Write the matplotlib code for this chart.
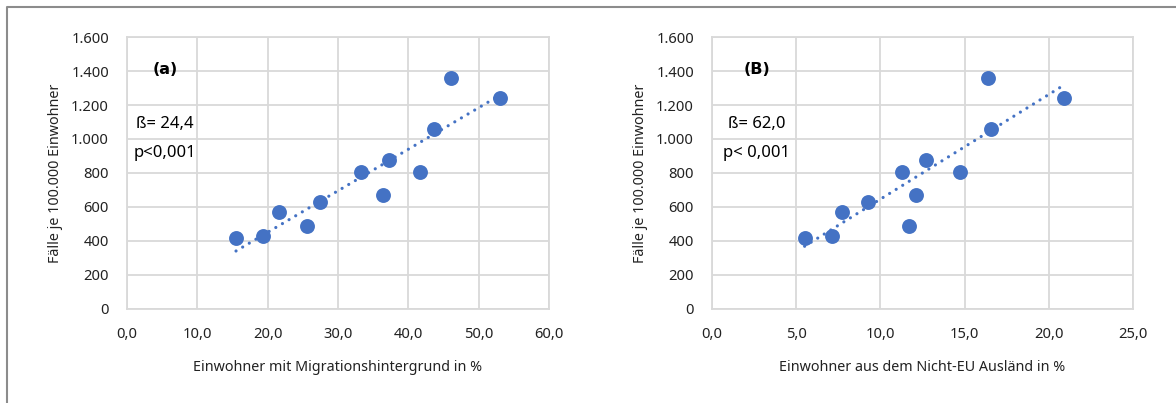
import matplotlib
matplotlib.use("Agg")
import matplotlib.pyplot as plt
from matplotlib.lines import Line2D
import numpy as np

plt.rcParams['font.family'] = ['Noto Sans', 'DejaVu Sans']

# Fälle je 100.000 Einwohner (same districts in both panels)
faelle_a = [415, 425, 570, 488, 629, 803, 667, 877, 805, 1059, 1361, 1242]
migration = [15.5, 19.4, 21.6, 25.6, 27.5, 33.2, 36.4, 37.3, 41.7, 43.7, 46.1, 53.1]

faelle_b = [415, 425, 570, 629, 803, 488, 667, 877, 805, 1361, 1059, 1242]
nicht_eu = [5.5, 7.1, 7.7, 9.25, 11.3, 11.7, 12.1, 12.7, 14.7, 16.4, 16.55, 20.9]

y_ticks = [0, 200, 400, 600, 800, 1000, 1200, 1400, 1600]
y_labels = ['0', '200', '400', '600', '800', '1.000', '1.200', '1.400', '1.600']

blue = '#4472C4'
grid = '#d9d9d9'

fig = plt.figure(figsize=(11.76, 4.03), dpi=100)

# outer frame (left and top edge only)
fig.add_artist(Line2D([7/1176, 7/1176, 1.0], [0.0, 1 - 7/403, 1 - 7/403],
                      transform=fig.transFigure, color='#8c8c8c', lw=1.5))


def panel(ax, x, y, xmax, xstep, xlabel, tag, beta, pval, txt_x):
    ax.set_xlim(0, xmax)
    ax.set_ylim(0, 1600)
    xt = np.arange(0, xmax + 0.01, xstep)
    ax.set_xticks(xt)
    ax.set_xticklabels([('%.1f' % v).replace('.', ',') for v in xt])
    ax.set_yticks(y_ticks)
    ax.set_yticklabels(y_labels)
    ax.grid(True, color=grid, lw=1.3)
    ax.set_axisbelow(True)
    for s in ax.spines.values():
        s.set_color(grid)
        s.set_linewidth(1.3)
    ax.tick_params(length=0, labelsize=10.6, pad=13, colors='#222222')

    # linear trend line
    k, d = np.polyfit(x, y, 1)
    xs = np.array([min(x), max(x)])
    ax.plot(xs, k * xs + d, color=blue, lw=2.3,
            linestyle=(0, (0.01, 2.4)), dash_capstyle='round', zorder=2)
    ax.scatter(x, y, s=115, color=blue, zorder=3, linewidths=0)

    ax.set_xlabel(xlabel, fontsize=10.3, labelpad=13, color='#222222')
    ax.set_ylabel('Fälle je 100.000 Einwohner', fontsize=10.3, labelpad=6,
                  color='#222222')
    ax.text(txt_x, 1410, tag, ha='center', va='center', fontsize=11.5,
            fontweight='bold', family=['DejaVu Sans'])
    ax.text(txt_x, 1088, beta, ha='center', va='center', fontsize=12)
    ax.text(txt_x, 920, pval, ha='center', va='center', fontsize=12)


ax1 = fig.add_axes([127/1176, 1 - 308.5/403, 422/1176, 271.2/403])
panel(ax1, migration, faelle_a, 60, 10,
      'Einwohner mit Migrationshintergrund in %', '(a)', 'ß= 24,4', 'p<0,001', 5.4)

ax2 = fig.add_axes([712/1176, 1 - 308.5/403, 421/1176, 271.2/403])
panel(ax2, nicht_eu, faelle_b, 25, 5,
      'Einwohner aus dem Nicht-EU Ausländ in %', '(B)', 'ß= 62,0', 'p< 0,001', 2.67)

fig.savefig('out.png', dpi=100, facecolor='white')
